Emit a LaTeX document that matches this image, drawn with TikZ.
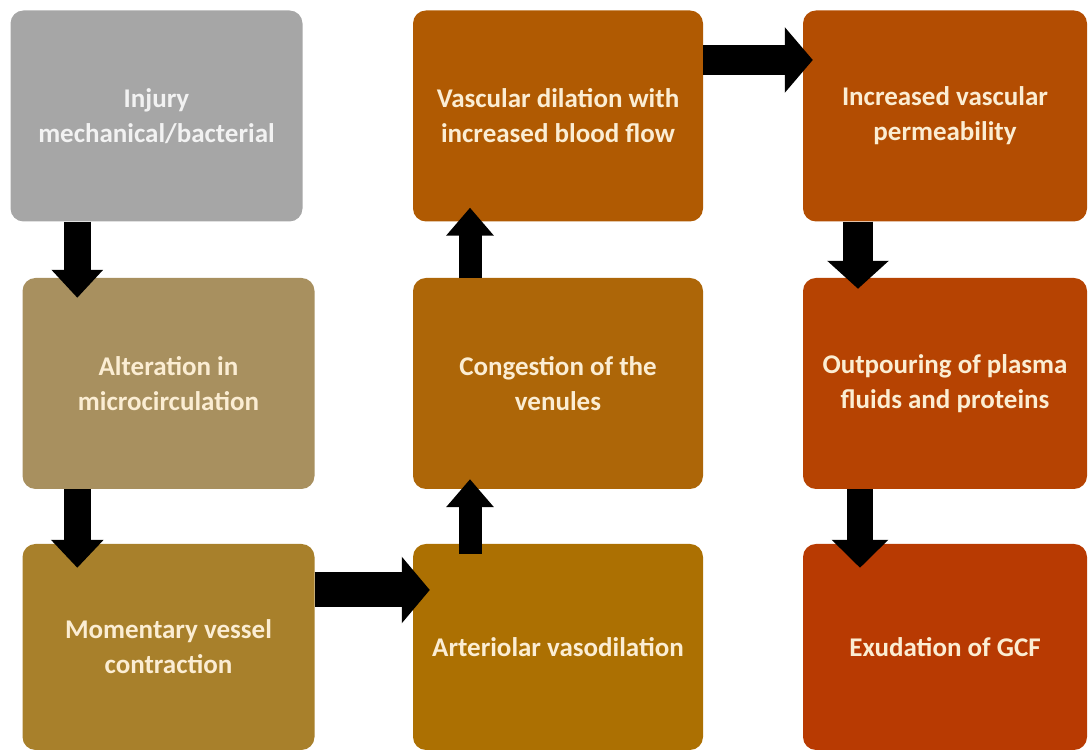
\documentclass[tikz,border=0pt]{standalone}
\usepackage{fontspec}
\setmainfont{Carlito}
\usepackage{tikz}
\usetikzlibrary{arrows.meta, positioning}

\definecolor{injuryGray}{HTML}{A6A6A6}
\definecolor{alterTan}{HTML}{A8905F}
\definecolor{momentOchre}{HTML}{A8802B}
\definecolor{arterBrown}{HTML}{AC7002}
\definecolor{congestBrown}{HTML}{AD6608}
\definecolor{vascBrown}{HTML}{B05A02}
\definecolor{permRust}{HTML}{B34D02}
\definecolor{plasmaRust}{HTML}{B64302}
\definecolor{gcfRed}{HTML}{B83A02}
\definecolor{cream}{HTML}{FBEDD3}

\begin{document}
\begin{tikzpicture}[x=1pt,y=1pt,on grid,
        box/.style={rectangle,rounded corners=13pt,minimum width=292pt,minimum height=211pt,
            inner sep=0pt,align=center,text=cream,font=\bfseries\fontsize{27}{35}\selectfont},
        flow/.style 2 args={line width=#1,-{Triangle[length=28pt,width=#2]}}]

        \useasboundingbox (0,0) rectangle (1088,751);

        % left column
        \node[box,fill=alterTan] (alter) at (168.5,367.5) {Alteration in\\microcirculation};
        \node[box,fill=injuryGray,text=white!95!black] (injury) [above=267.5pt of alter,xshift=-12pt] {Injury\\mechanical/bacterial};
        \node[box,fill=momentOchre,minimum height=206pt] (moment) [below=263.5pt of alter] {Momentary vessel\\contraction};

        % middle column
        \node[box,fill=congestBrown,minimum width=290pt] (congest) [right=389.5pt of alter] {Congestion of the\\venules};
        \node[box,fill=vascBrown,minimum width=290pt] (vasc) [above=267.5pt of congest] {Vascular dilation with\\increased blood flow};
        \node[box,fill=arterBrown,minimum width=290pt,minimum height=206pt] (arter) [below=263.5pt of congest] {Arteriolar vasodilation};

        % right column
        \node[box,fill=plasmaRust,minimum width=284pt] (plasma) [right=387pt of congest] {Outpouring of plasma\\fluids and proteins};
        \node[box,fill=permRust,minimum width=284pt] (perm) [above=267.5pt of plasma] {Increased vascular\\permeability};
        \node[box,fill=gcfRed,minimum width=284pt,minimum height=206pt] (gcf) [below=263.5pt of plasma] {Exudation of GCF};

        % block arrows
        \draw[flow={27pt}{50pt},shorten >=-20pt] ([xshift=67pt]injury.south west) -- ([xshift=55pt]alter.north west);
        \draw[flow={27pt}{51pt},shorten >=-24pt] ([xshift=55pt]alter.south west) -- ([xshift=55pt]moment.north west);
        \draw[flow={35pt}{65pt},shorten >=-17pt] ([yshift=57pt]moment.east) -- ([yshift=57pt]arter.west);
        \draw[flow={23pt}{46pt},shorten <=-10pt,shorten >=-10pt] ([xshift=-88pt]arter.north) -- ([xshift=-88pt]congest.south);
        \draw[flow={23pt}{46pt},shorten >=-14pt] ([xshift=-88pt]congest.north) -- ([xshift=-88pt]vasc.south);
        \draw[flow={30pt}{64pt},shorten >=-10pt] ([yshift=56pt]vasc.east) -- ([yshift=56pt]perm.west);
        \draw[flow={30pt}{60pt},shorten >=-11pt] ([xshift=-87pt]perm.south) -- ([xshift=-87pt]plasma.north);
        \draw[flow={26pt}{55pt},shorten >=-24pt] ([xshift=-85pt]plasma.south) -- ([xshift=-85pt]gcf.north);
\end{tikzpicture}
\end{document}
